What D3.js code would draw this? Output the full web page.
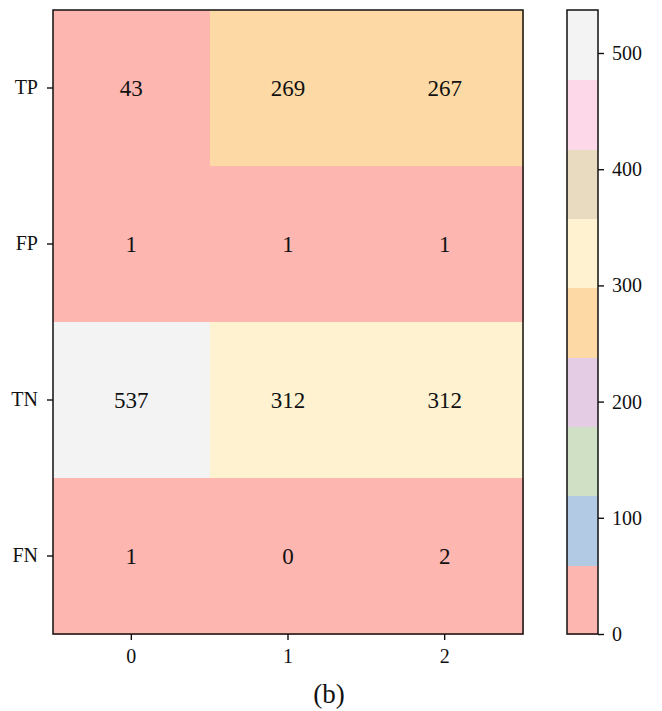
<!DOCTYPE html>
<html>
<head>
<meta charset="utf-8">
<script src="https://cdn.jsdelivr.net/npm/d3@7"></script>
<style>
  html, body { margin: 0; padding: 0; background: #fff; }
  svg { display: block; font-family: "Liberation Serif", "Times New Roman", serif; }
</style>
</head>
<body>
<svg id="chart" width="662" height="711"></svg>
<script>
// Confusion counts per class (columns) for each outcome (rows)
const rowLabels = ["TP", "FP", "TN", "FN"];
const colLabels = ["0", "1", "2"];
const tpValues = [43, 269, 267];
const fpValues = [1, 1, 1];
const tnValues = [537, 312, 312];
const fnValues = [1, 0, 2];
const colorbarTicks = [0, 100, 200, 300, 400, 500];
const paletteColors = ["#fdb6b0", "#b3cae4", "#cfe0c5", "#e4cce4", "#fddaa5",
                       "#fef2d0", "#e9dbbf", "#fdd8e8", "#f3f3f3"];
const caption = "(b)";

const matrix = [tpValues, fpValues, tnValues, fnValues];
const cells = [];
matrix.forEach((row, r) => row.forEach((v, c) => cells.push({ row: rowLabels[r], col: colLabels[c], value: v })));

const svg = d3.select("#chart");
const plot = { left: 53, top: 10, right: 523, bottom: 634 };
const bar = { left: 567, right: 598 };

const vmin = d3.min(cells, d => d.value);
const vmax = d3.max(cells, d => d.value);
const color = d3.scaleQuantize().domain([vmin, vmax]).range(paletteColors);

const x = d3.scaleBand().domain(colLabels).range([plot.left, plot.right]).padding(0);
const y = d3.scaleBand().domain(rowLabels).range([plot.top, plot.bottom]).padding(0);

// Heatmap cells
svg.append("g").attr("shape-rendering", "crispEdges")
  .selectAll("rect").data(cells).join("rect")
  .attr("x", d => x(d.col))
  .attr("y", d => y(d.row))
  .attr("width", x.bandwidth() + 1)
  .attr("height", y.bandwidth() + 1)
  .attr("fill", d => color(d.value));

// Value annotations
const valueSize = 23;
svg.append("g").selectAll("text").data(cells).join("text")
  .attr("x", d => x(d.col) + x.bandwidth() / 2)
  .attr("y", d => y(d.row) + y.bandwidth() / 2 + valueSize * 0.34)
  .attr("text-anchor", "middle")
  .attr("font-size", valueSize)
  .attr("fill", "#111")
  .text(d => d.value);

// Axes
function styleAxis(g, size) {
  g.select(".domain").remove();
  g.selectAll(".tick line").attr("stroke", "#111").attr("stroke-width", 1.4);
  g.selectAll(".tick text").attr("font-size", size).attr("fill", "#111")
    .attr("font-family", "Liberation Serif, Times New Roman, serif");
}

svg.append("g")
  .attr("transform", `translate(${plot.left},0)`)
  .call(d3.axisLeft(y).tickSize(6).tickPadding(9))
  .call(g => styleAxis(g, 20));

svg.append("g")
  .attr("transform", `translate(0,${plot.bottom})`)
  .call(d3.axisBottom(x).tickSize(6).tickPadding(9))
  .call(g => styleAxis(g, 20));

// Plot frame
svg.append("rect")
  .attr("x", plot.left).attr("y", plot.top)
  .attr("width", plot.right - plot.left).attr("height", plot.bottom - plot.top)
  .attr("fill", "none").attr("stroke", "#111").attr("stroke-width", 1.5);

// Colorbar
const cb = d3.scaleLinear().domain([vmin, vmax]).range([plot.bottom, plot.top]);
const bands = paletteColors.map(c => {
  const [a, b] = color.invertExtent(c);
  return { color: c, lo: a, hi: b };
});
svg.append("g").attr("shape-rendering", "crispEdges")
  .selectAll("rect").data(bands).join("rect")
  .attr("x", bar.left)
  .attr("y", d => cb(d.hi))
  .attr("width", bar.right - bar.left)
  .attr("height", d => cb(d.lo) - cb(d.hi) + 1)
  .attr("fill", d => d.color);

svg.append("g")
  .attr("transform", `translate(${bar.right},0)`)
  .call(d3.axisRight(cb).tickValues(colorbarTicks).tickSize(6).tickPadding(8))
  .call(g => styleAxis(g, 20));

svg.append("rect")
  .attr("x", bar.left).attr("y", plot.top)
  .attr("width", bar.right - bar.left).attr("height", plot.bottom - plot.top)
  .attr("fill", "none").attr("stroke", "#111").attr("stroke-width", 1.5);

// Caption
svg.append("text")
  .attr("x", 329)
  .attr("y", 703)
  .attr("text-anchor", "middle")
  .attr("font-size", 27)
  .attr("fill", "#111")
  .text(caption);
</script>
</body>
</html>
